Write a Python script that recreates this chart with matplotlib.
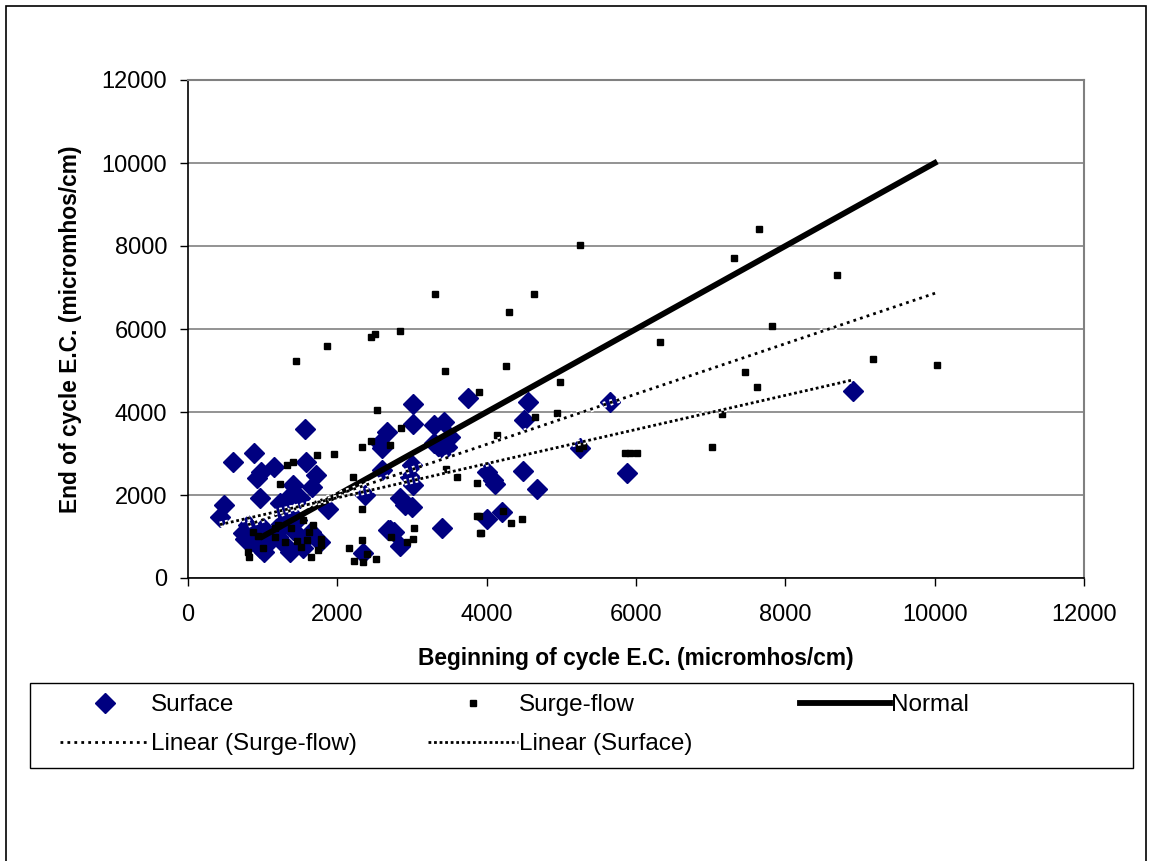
import numpy as np
import matplotlib.pyplot as plt
import matplotlib.patches as mpatches
import matplotlib.patheffects as pe

plt.rcParams['font.family'] = ['Liberation Sans', 'DejaVu Sans']

# Surface irrigation: beginning vs end of cycle E.C.
surface_x = [429, 480, 607, 885, 929, 983, 1153, 1564, 1577, 1711, 1412, 1667, 965, 1385,
             1501, 1233, 1880, 1300, 1454, 808, 741, 831, 1052, 1186, 1367, 1546, 1590, 1769,
             1412, 961, 827, 1200, 1000, 1650, 900, 1100, 1300, 1020, 1250, 760,
             2592, 2592, 2367, 2346, 2681, 2663, 2574,
             3020, 3744, 4549, 3020, 3288, 3422, 4500, 3512, 3288, 3466, 3378, 2995, 2976,
             3016, 4010, 4091, 4115, 4484, 4671, 5254, 2842, 2909, 2999, 4203, 4010, 3400,
             2708, 2760, 2842, 5657, 5880, 8904]
surface_y = [1470, 1760, 2790, 3005, 2400, 2560, 2670, 3580, 2790, 2490, 2240, 2200, 1920, 2000,
             1920, 1800, 1660, 1560, 1400, 1277, 1076, 875, 836, 1116, 634, 716, 996, 875,
             1157, 716, 875, 1000, 1200, 1100, 1000, 900, 800, 620, 1300, 950,
             3130, 2610, 2000, 600, 1157, 3520, 3250,
             4190, 4330, 4240, 3720, 3680, 3770, 3807, 3405, 3245, 3165, 3125, 2720, 2440,
             2240, 2560, 2360, 2265, 2585, 2137, 3125, 1920, 1760, 1720, 1600, 1414, 1200,
             1157, 1100, 760, 4250, 2520, 4513]

# Surge-flow irrigation
surge_x = [5254, 3311, 4629, 4295, 2842, 2453, 2510, 1859, 1448, 3445, 4263, 4987, 3892, 4651,
           4942, 2850, 2708, 4135, 3602, 3870, 3458, 5233, 5286, 3892, 4217, 4324, 4477, 3928,
           3030, 3020, 2721, 2931,
           7645, 7319, 8686, 7823, 6327, 9169, 7466, 7627, 7154, 7024, 5858, 5925, 6015, 10027,
           2534, 2453, 2332, 1729, 1953, 1331, 1407, 1237, 2212, 2332, 2332, 2162, 2225, 2346,
           2524, 2403, 804, 811, 1009, 1541, 1676, 1617, 871, 938, 1162, 1206, 1171, 1296,
           1385, 1465, 1519, 1599, 1644, 1777, 1787, 1743, 3906, 3870]
surge_y = [8024, 6843, 6843, 6410, 5952, 5815, 5872, 5590, 5228, 4988, 5108, 4730, 4490, 3872,
           3968, 3624, 3205, 3446, 2441, 2281, 2627, 3125, 3190, 1494, 1622, 1333, 1422, 1092,
           1213, 940, 996, 875,
           8402, 7703, 7301, 6072, 5679, 5277, 4964, 4602, 3952, 3149, 3020, 3020, 3020, 5133,
           4048, 3301, 3157, 2964, 2988, 2723, 2803, 2265, 2441, 1663, 916, 730, 410, 393,
           458, 578, 634, 514, 716, 1398, 1277, 1116, 1116, 1020, 1197, 1277, 980, 875,
           1197, 900, 754, 916, 514, 932, 795, 675, 1092, 1502]

# Normal (1:1) reference line
normal_x = [1000, 2000, 3000, 4000, 5000, 6000, 7000, 8000, 9000, 10000]
normal_y = [1000, 2000, 3000, 4000, 5000, 6000, 7000, 8000, 9000, 10000]

ticks = [0, 2000, 4000, 6000, 8000, 10000, 12000]

W, H = 1149, 861
fig = plt.figure(figsize=(W / 100, H / 100), dpi=100)
ax = fig.add_axes([188 / W, 1 - 578 / H, (1084 - 188) / W, (578 - 80) / H])

ax.plot(surface_x, surface_y, linestyle='none', marker='D', ms=10.5,
        color='#000080', label='Surface', zorder=3)
ax.plot(surge_x, surge_y, linestyle='none', marker='s', ms=3.8,
        color='black', label='Surge-flow', zorder=4)
ax.plot(normal_x, normal_y, color='black', lw=4.2, label='Normal', zorder=5)

# linear trend lines (least squares, over each series' x range)
white_edge = [pe.Stroke(linewidth=4.5, foreground='white'), pe.Normal()]
p = np.polyfit(surge_x, surge_y, 1)
xs = np.array([min(surge_x), max(surge_x)])
ax.plot(xs, np.polyval(p, xs), color='black', lw=2, linestyle=(0, (1, 1.5)),
        path_effects=white_edge, label='Linear (Surge-flow)', zorder=6)
p = np.polyfit(surface_x, surface_y, 1)
xs = np.array([min(surface_x), max(surface_x)])
ax.plot(xs, np.polyval(p, xs), color='black', lw=2, linestyle=(0, (1, 1)),
        path_effects=white_edge, label='Linear (Surface)', zorder=6)

ax.set_xlim(0, 12000)
ax.set_ylim(0, 12000)
ax.set_xticks(ticks)
ax.set_yticks(ticks)
ax.tick_params(labelsize=17, direction='out', length=6, width=1, color='black', pad=9)
ax.tick_params(axis='x', pad=13)
ax.yaxis.grid(True, color='#808080', lw=1.2)
ax.set_axisbelow(True)
for s in ['top', 'right']:
    ax.spines[s].set_color('#808080')
    ax.spines[s].set_linewidth(1.5)
for s in ['left', 'bottom']:
    ax.spines[s].set_color('black')
    ax.spines[s].set_linewidth(1.2)

ax.set_xlabel('Beginning of cycle E.C. (micromhos/cm)', fontsize=16.4, fontweight='bold', labelpad=15)
ax.set_ylabel('End of cycle E.C. (micromhos/cm)', fontsize=16.4, fontweight='bold', labelpad=14)

# legend laid out in rows like the Excel one: one legend per column
h, l = ax.get_legend_handles_labels()
columns = [([0, 3], 60), ([1, 4], 428), ([2], 800)]
for idx, x0 in columns:
    fig.legend([h[i] for i in idx], [l[i] for i in idx], loc='upper left',
               bbox_to_anchor=(x0 / W, 1 - 694 / H), fontsize=17.5, frameon=False,
               handlelength=3.7, handletextpad=0.05, borderpad=0, borderaxespad=0,
               labelspacing=0.7)
fig.patches.append(mpatches.Rectangle((30 / W, 1 - 768 / H), 1103 / W, 85 / H,
                                      transform=fig.transFigure, fill=False,
                                      edgecolor='black', lw=1))

# outer chart border
fig.patches.append(mpatches.Rectangle((6 / W, -0.01), 1140 / W, 1.01 - 6 / H,
                                      transform=fig.transFigure, fill=False,
                                      edgecolor='black', lw=1.2))

fig.savefig('out.png', dpi=100)
